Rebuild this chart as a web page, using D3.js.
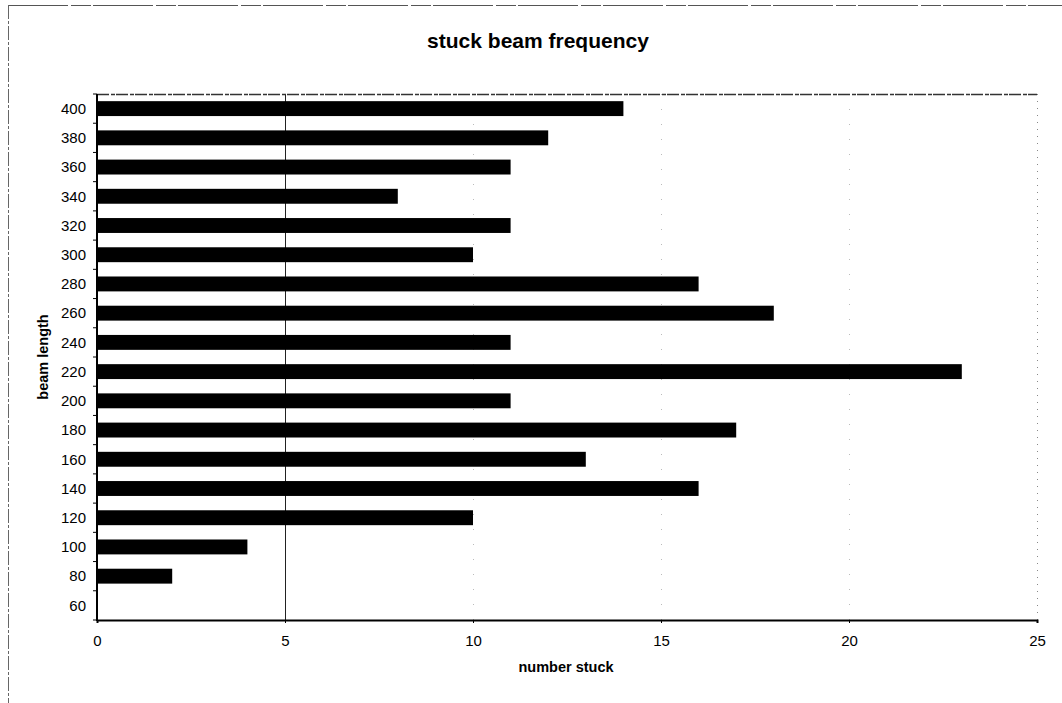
<!DOCTYPE html>
<html>
<head>
<meta charset="utf-8">
<script src="https://cdn.jsdelivr.net/npm/d3@7"></script>
<style>
  html, body { margin: 0; padding: 0; background: #fff; }
  svg { display: block; font-family: Arial, "Liberation Sans", sans-serif; }
</style>
</head>
<body>
<svg id="chart" width="1062" height="703"></svg>
<script>
// Beam length categories (bottom to top) and how many beams stuck at each length
const beamLengths = [60, 80, 100, 120, 140, 160, 180, 200, 220, 240, 260, 280, 300, 320, 340, 360, 380, 400];
const numberStuck = [0, 2, 4, 10, 16, 13, 17, 11, 23, 11, 18, 16, 10, 11, 8, 11, 12, 14];
const xTicks = [0, 5, 10, 15, 20, 25];

const svg = d3.select("#chart");
const W = 1062, H = 703;
const plot = { left: 97, top: 94, right: 1037, bottom: 620 };

// Outer chart frame (only the top and left edges fall inside the page)
svg.append("line").attr("x1", 8).attr("x2", W).attr("y1", 5.5).attr("y2", 5.5)
  .attr("stroke", "#555").attr("stroke-width", 1).attr("stroke-dasharray", "60,3,20,2");
svg.append("line").attr("x1", 8.5).attr("x2", 8.5).attr("y1", 5).attr("y2", H)
  .attr("stroke", "#666").attr("stroke-width", 1).attr("stroke-dasharray", "14,2,3,2");

const x = d3.scaleLinear().domain([0, 25]).range([plot.left, plot.right]);
const y = d3.scaleBand().domain(beamLengths.slice().reverse())
  .range([plot.top, plot.bottom]).paddingInner(0.49).paddingOuter(0.245);

// Vertical gridlines
const grid = svg.append("g");
grid.selectAll("line").data(xTicks.filter(t => t > 0 && t < 25)).join("line")
  .attr("x1", d => x(d) + 0.5).attr("x2", d => x(d) + 0.5)
  .attr("y1", plot.top).attr("y2", plot.bottom)
  .attr("stroke", d => d === 5 ? "#222" : "#bbb")
  .attr("stroke-width", 1)
  .attr("stroke-dasharray", d => d === 5 ? null : "1,14");

// Plot area top and right edges (light dotted)
svg.append("line").attr("x1", plot.left).attr("x2", plot.right)
  .attr("y1", plot.top + 0.5).attr("y2", plot.top + 0.5)
  .attr("stroke", "#333").attr("stroke-width", 1.5).attr("stroke-dasharray", "12,2,4,1");
svg.append("line").attr("x1", plot.right + 0.5).attr("x2", plot.right + 0.5)
  .attr("y1", plot.top).attr("y2", plot.bottom)
  .attr("stroke", "#888").attr("stroke-width", 1).attr("stroke-dasharray", "1,6");

// Bars
const data = beamLengths.map((b, i) => ({ b, v: numberStuck[i] }));
svg.append("g").selectAll("rect").data(data).join("rect")
  .attr("x", x(0))
  .attr("y", d => y(d.b))
  .attr("width", d => x(d.v) - x(0))
  .attr("height", y.bandwidth())
  .attr("fill", "#000");

// X axis
const xAxis = svg.append("g").attr("transform", `translate(0,${plot.bottom})`)
  .call(d3.axisBottom(x).tickValues(xTicks).tickSize(3).tickPadding(12));
xAxis.select(".domain").attr("stroke", "#000").attr("stroke-width", 2);
xAxis.selectAll(".tick line").attr("stroke", "#000");
xAxis.selectAll("text").attr("font-size", 15).attr("fill", "#000")
  .attr("font-family", "Arial, 'Liberation Sans', sans-serif");

// Y axis: ticks sit on the category boundaries, labels centred on each band
const yAxis = svg.append("g").attr("transform", `translate(${plot.left},0)`);
yAxis.append("line").attr("x1", 0).attr("x2", 0).attr("y1", plot.top).attr("y2", plot.bottom + 1)
  .attr("stroke", "#000").attr("stroke-width", 2);
const bounds = d3.range(beamLengths.length + 1).map(i => plot.top + i * (plot.bottom - plot.top) / beamLengths.length);
yAxis.selectAll("line.tk").data(bounds).join("line").attr("class", "tk")
  .attr("x1", -4).attr("x2", 0).attr("y1", d => d).attr("y2", d => d)
  .attr("stroke", "#000").attr("stroke-width", 1);
yAxis.selectAll("text").data(beamLengths).join("text")
  .attr("x", -11)
  .attr("y", d => y(d) + y.bandwidth() / 2)
  .attr("dy", "0.35em")
  .attr("text-anchor", "end")
  .attr("font-size", 15)
  .attr("fill", "#000")
  .text(d => d);

// Title and axis titles
svg.append("text").attr("x", 538).attr("y", 48).attr("text-anchor", "middle")
  .attr("font-size", 21).attr("font-weight", "bold").text("stuck beam frequency");
svg.append("text").attr("x", 566).attr("y", 672).attr("text-anchor", "middle")
  .attr("font-size", 14.5).attr("font-weight", "bold").text("number stuck");
svg.append("text").attr("transform", "translate(48,357) rotate(-90)").attr("text-anchor", "middle")
  .attr("font-size", 14.5).attr("font-weight", "bold").text("beam length");
</script>
</body>
</html>
